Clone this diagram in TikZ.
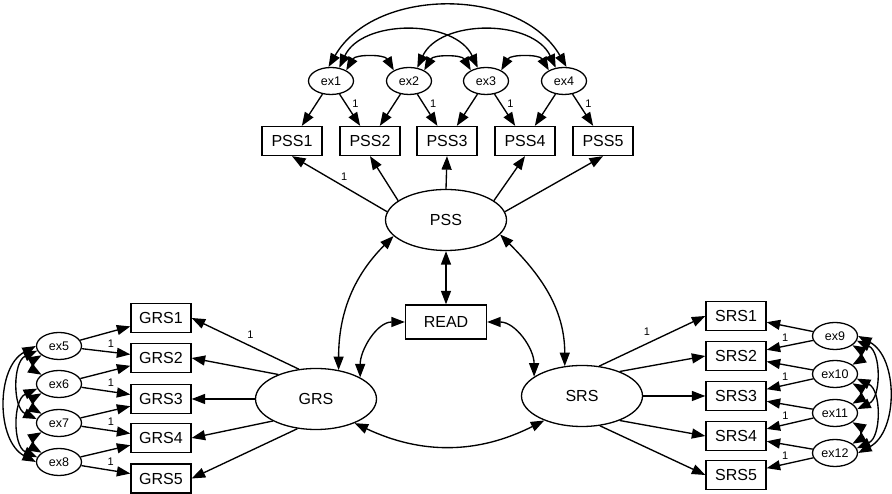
\documentclass[tikz,border=0pt]{standalone}
\usepackage{fontspec}
\setmainfont{Liberation Sans}
\usetikzlibrary{shapes.geometric,arrows.meta}
\begin{document}
\begin{tikzpicture}[x=1pt,y=1pt,
  obs/.style={draw, line width=1.3pt, minimum width=60pt, minimum height=29pt, inner sep=0pt, font=\fontsize{16}{16}\selectfont},
  lat/.style={draw, ellipse, line width=1.3pt, minimum width=121pt, minimum height=61pt, inner sep=0pt, font=\fontsize{16}{16}\selectfont},
  err/.style={draw, ellipse, line width=1.3pt, minimum width=45pt, minimum height=27pt, inner sep=0pt, font=\fontsize{12.5}{12.5}\selectfont},
  reg/.style={line width=1.35pt, -{Triangle[length=13.5pt,width=10pt]}},
  cov/.style={line width=1.35pt, {Triangle[length=13.5pt,width=10pt]}-{Triangle[length=13.5pt,width=10pt]}},
  one/.style={font=\fontsize{11}{11}\selectfont, inner sep=1pt}]
\useasboundingbox (0,0) rectangle (892,494);

% observed PSS
\node[obs] (PSS1) at (292,353) {PSS1};
\node[obs] (PSS2) at (370,353) {PSS2};
\node[obs] (PSS3) at (447,353) {PSS3};
\node[obs] (PSS4) at (525,353) {PSS4};
\node[obs] (PSS5) at (603,353) {PSS5};
% errors top
\node[err] (ex1) at (331,413) {ex1};
\node[err] (ex2) at (409,413) {ex2};
\node[err] (ex3) at (486,413) {ex3};
\node[err] (ex4) at (564,413) {ex4};
% latent
\node[lat] (PSS) at (446,274) {PSS};
\node[lat] (GRS) at (316,95) {GRS};
\node[lat] (SRS) at (582,98) {SRS};
\node[obs, minimum width=81pt, minimum height=34pt] (READ) at (446,172) {READ};
% GRS observed
\node[obs] (GRS1) at (161,176) {GRS1};
\node[obs] (GRS2) at (161,136) {GRS2};
\node[obs] (GRS3) at (161,95) {GRS3};
\node[obs] (GRS4) at (161,56) {GRS4};
\node[obs] (GRS5) at (161,15.5) {GRS5};
\node[err] (ex5) at (59,148) {ex5};
\node[err] (ex6) at (59,110) {ex6};
\node[err] (ex7) at (59,71) {ex7};
\node[err] (ex8) at (59,32) {ex8};
% SRS observed
\node[obs] (SRS1) at (736,178) {SRS1};
\node[obs] (SRS2) at (736,138) {SRS2};
\node[obs] (SRS3) at (736,98) {SRS3};
\node[obs] (SRS4) at (736,58) {SRS4};
\node[obs] (SRS5) at (736,19) {SRS5};
\node[err] (ex9) at (835,158) {ex9};
\node[err] (ex10) at (835,120) {ex10};
\node[err] (ex11) at (835,81) {ex11};
\node[err] (ex12) at (835,41) {ex12};

% loadings
\draw[reg] (PSS.172) -- node[one, pos=0.45, above=5pt]{1} (PSS1.south);
\draw[reg] (PSS.158) -- (PSS2.south);
\draw[reg] (PSS.north) -- (PSS3.south);
\draw[reg] (PSS.22) -- (PSS4.south);
\draw[reg] (PSS.8) -- (PSS5.south);
\draw[reg] (GRS.120) -- node[one, pos=0.45, above=6pt]{1} (GRS1.east);
\draw[reg] (GRS.147) -- (GRS2.east);
\draw[reg] (GRS.west) -- (GRS3.east);
\draw[reg] (GRS.207) -- (GRS4.east);
\draw[reg] (GRS.238) -- (GRS5.east);
\draw[reg] (SRS.60) -- node[one, pos=0.45, above=6pt]{1} (SRS1.west);
\draw[reg] (SRS.33) -- (SRS2.west);
\draw[reg] (SRS.east) -- (SRS3.west);
\draw[reg] (SRS.327) -- (SRS4.west);
\draw[reg] (SRS.301) -- (SRS5.west);

% error paths top
\draw[reg] (ex1) -- (PSS1);
\draw[reg] (ex1) -- node[one, pos=0.3, right=5pt]{1} (PSS2);
\draw[reg] (ex2) -- (PSS2);
\draw[reg] (ex2) -- node[one, pos=0.3, right=5pt]{1} (PSS3);
\draw[reg] (ex3) -- (PSS3);
\draw[reg] (ex3) -- node[one, pos=0.3, right=5pt]{1} (PSS4);
\draw[reg] (ex4) -- (PSS4);
\draw[reg] (ex4) -- node[one, pos=0.3, right=5pt]{1} (PSS5);
% error paths left
\draw[reg] (ex5) -- (GRS1);
\draw[reg] (ex5) -- node[one, pos=0.6, above=3pt]{1} (GRS2);
\draw[reg] (ex6) -- (GRS2);
\draw[reg] (ex6) -- node[one, pos=0.6, above=3pt]{1} (GRS3);
\draw[reg] (ex7) -- (GRS3);
\draw[reg] (ex7) -- node[one, pos=0.6, above=3pt]{1} (GRS4);
\draw[reg] (ex8) -- (GRS4);
\draw[reg] (ex8) -- node[one, pos=0.6, above=3pt]{1} (GRS5);
% error paths right
\draw[reg] (ex9) -- (SRS1);
\draw[reg] (ex9) -- node[one, pos=0.6, above=3pt]{1} (SRS2);
\draw[reg] (ex10) -- (SRS2);
\draw[reg] (ex10) -- node[one, pos=0.6, above=3pt]{1} (SRS3);
\draw[reg] (ex11) -- (SRS3);
\draw[reg] (ex11) -- node[one, pos=0.6, above=3pt]{1} (SRS4);
\draw[reg] (ex12) -- (SRS4);
\draw[reg] (ex12) -- node[one, pos=0.6, above=3pt]{1} (SRS5);

% covariances top
\draw[cov] (ex1.100) to[bend left=60] (ex4.80);
\draw[cov] (ex1.58) to[bend left=65] (ex3.122);
\draw[cov] (ex2.58) to[bend left=65] (ex4.122);
\draw[cov] (ex1.35) to[bend left=60] (ex2.145);
\draw[cov] (ex2.35) to[bend left=60] (ex3.145);
\draw[cov] (ex3.35) to[bend left=60] (ex4.145);
% covariances left
\draw[cov] (ex5.180) to[bend right=62] (ex8.180);
\draw[cov] (ex5.192) to[bend right=65] (ex7.170);
\draw[cov] (ex6.192) to[bend right=65] (ex8.168);
\draw[cov] (ex5.208) to[bend right=60] (ex6.152);
\draw[cov] (ex6.208) to[bend right=60] (ex7.152);
\draw[cov] (ex7.208) to[bend right=60] (ex8.152);
% covariances right
\draw[cov] (ex9.0) to[bend left=62] (ex12.0);
\draw[cov] (ex9.348) to[bend left=65] (ex11.10);
\draw[cov] (ex10.348) to[bend left=65] (ex12.12);
\draw[cov] (ex9.332) to[bend left=60] (ex10.28);
\draw[cov] (ex10.332) to[bend left=60] (ex11.28);
\draw[cov] (ex11.332) to[bend left=60] (ex12.28);

% structural covariances
\draw[cov] (GRS.52) to[out=90, in=225] (PSS.197);
\draw[cov] (SRS.120) to[out=90, in=315] (PSS.345);
\draw[cov] (PSS.south) -- (READ.north);
\draw[cov] (READ.west) to[out=180, in=90] (GRS.26);
\draw[cov] (READ.east) to[out=0, in=90] (SRS.158);
\draw[cov] (GRS.328) to[bend right=26] (SRS.213);
\end{tikzpicture}
\end{document}
